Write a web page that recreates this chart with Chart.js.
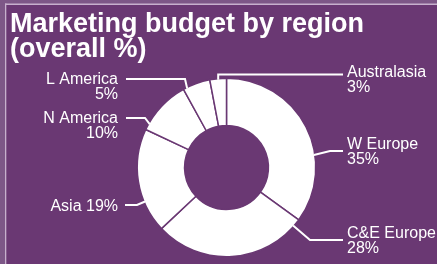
<!DOCTYPE html>
<html>
<head>
<meta charset="utf-8">
<script src="https://cdn.jsdelivr.net/npm/chart.js@4"></script>
<style>
  html, body { margin: 0; padding: 0; background: #6a3873; }
  #wrap { width: 437px; height: 264px; }
</style>
</head>
<body>
<div id="wrap"><canvas id="budgetChart" width="437" height="264"></canvas></div>
<script>
// data
const regions = ['W Europe', 'C&E Europe', 'Asia', 'N America', 'L America', 'Australasia'];
const shares = [35, 28, 19, 10, 5, 3];
const titleLines = ['Marketing budget by region', '(overall %)'];

const BG = '#6a3873';
const FONT = '"Liberation Sans", Arial, sans-serif';

// where each label sits and how its leader bends (layout only)
const labelLayout = {
  'W Europe':    { x: 347, y: 149, align: 'left',  lines: 2, at: 0.65, elbow: [330, 151], end: [343, 151] },
  'C&E Europe':  { x: 347, y: 238, align: 'left',  lines: 2, at: 0.05, elbow: [310, 240], end: [343, 240] },
  'Asia':        { x: 118, y: 211, align: 'right', lines: 1, at: 0.30, elbow: [137, 205], end: [125, 205] },
  'N America':   { x: 118, y: 123, align: 'right', lines: 2, at: 0.12, elbow: [145, 118], end: [126, 118] },
  'L America':   { x: 118, y: 84,  align: 'right', lines: 2, at: 0.13, elbow: [185, 79],  end: [126, 79] },
  'Australasia': { x: 347, y: 77,  align: 'left',  lines: 2, at: 0.50, elbow: null,       end: [343, 74.5] }
};

const framePlugin = {
  id: 'frame',
  beforeDraw(chart) {
    const c = chart.ctx;
    c.save();
    c.fillStyle = '#7d5787';
    c.fillRect(0, 0, chart.width, chart.height);
    c.fillStyle = '#c7b0cd';
    c.fillRect(5, 3.5, chart.width - 5, 1.5);
    c.fillRect(5, 3.5, 1.5, chart.height);
    c.fillStyle = BG;
    c.fillRect(6.5, 5, chart.width, chart.height);
    c.restore();
  }
};

const labelPlugin = {
  id: 'labels',
  afterDraw(chart) {
    const c = chart.ctx;
    c.save();
    // title
    c.fillStyle = '#fff';
    c.font = 'bold 27px ' + FONT;
    c.textBaseline = 'alphabetic';
    c.textAlign = 'left';
    c.fillText(titleLines[0], 10, 32);
    c.fillText(titleLines[1], 10, 57);

    const arcs = chart.getDatasetMeta(0).data;
    c.font = '16px ' + FONT;
    c.strokeStyle = '#fff';
    c.lineWidth = 2;
    regions.forEach((name, i) => {
      const L = labelLayout[name];
      const a = arcs[i];
      const ang = a.startAngle + (a.endAngle - a.startAngle) * L.at;
      const r = a.outerRadius - 1;
      const ax = a.x + Math.cos(ang) * r;
      const ay = a.y + Math.sin(ang) * r;
      c.beginPath();
      c.moveTo(ax, ay);
      if (L.elbow) c.lineTo(L.elbow[0], L.elbow[1]);
      else c.lineTo(ax, L.end[1]);
      c.lineTo(L.end[0], L.end[1]);
      c.stroke();

      c.textAlign = L.align;
      const pct = shares[i] + '%';
      if (L.lines === 1) {
        c.fillText(name + ' ' + pct, L.x, L.y);
      } else {
        c.fillText(name, L.x, L.y);
        c.fillText(pct, L.x, L.y + 15);
      }
    });
    c.restore();
  }
};

new Chart(document.getElementById('budgetChart'), {
  type: 'doughnut',
  data: {
    labels: regions,
    datasets: [{
      data: shares,
      backgroundColor: '#ffffff',
      borderColor: BG,
      borderWidth: 1.5,
      hoverOffset: 0
    }]
  },
  options: {
    responsive: false,
    animation: false,
    cutout: '47%',
    layout: { padding: { left: 136.5, right: 120.5, top: 77.5, bottom: 6.5 } },
    plugins: {
      legend: { display: false },
      tooltip: { enabled: false },
      title: { display: false }
    }
  },
  plugins: [framePlugin, labelPlugin]
});
</script>
</body>
</html>
